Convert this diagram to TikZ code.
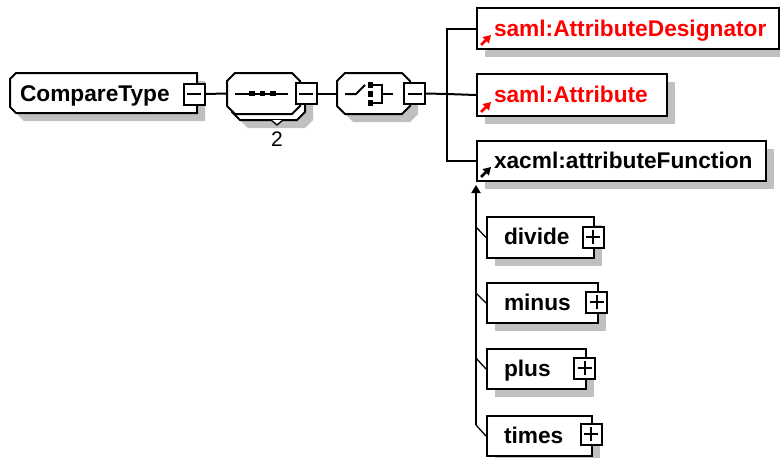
\documentclass[tikz,border=0pt]{standalone}
\usepackage{fontspec}
\setmainfont{Liberation Sans}
\usetikzlibrary{shadows,arrows.meta}
\definecolor{shd}{RGB}{192,192,192}
\definecolor{xred}{RGB}{255,0,0}
\begin{document}
\begin{tikzpicture}[x=1pt,y=-1pt, line width=2pt,
  shbox/.style={draw=black, line width=2pt, fill=white, general shadow={fill=shd, shadow xshift=8pt, shadow yshift=-8pt}},
  plainbox/.style={draw=black, line width=2pt, fill=white},
  rbox/.style={shbox, rectangle, inner sep=0, anchor=north west},
  area/.style={inner sep=0, rectangle},
  pmbox/.style={draw, fill=white, rectangle, minimum size=21, inner sep=0, line width=2pt},
  pmminus/.style={pmbox, path picture={\draw[line width=2pt] ([xshift=-7pt]path picture bounding box.center) -- ([xshift=7pt]path picture bounding box.center);}},
  pmplus/.style={pmbox, path picture={\draw[line width=2pt] ([xshift=-7pt]path picture bounding box.center) -- ([xshift=7pt]path picture bounding box.center) ([yshift=-7pt]path picture bounding box.center) -- ([yshift=7pt]path picture bounding box.center);}},
  lbl/.style={font=\bfseries\fontsize{22.7}{26}\selectfont, inner sep=0, anchor=base west},
  conn/.style={draw, line width=2pt},
  stub/.style={draw, line width=1.3pt},
  refarrow/.style={-{Triangle[length=7.5pt,width=8.5pt]}, line width=2.6pt},
  icon/.style={line width=2pt}
]
\useasboundingbox (0,0) rectangle (780,458);

% CompareType
\draw[shbox] (16,73) -- (197,73) -- (197,113) -- (16,113) -- (10,107) -- (10,79) -- cycle;
\node[area, minimum width=187, minimum height=40] (ct) at (103.5,93) {};
\node[lbl] (ctT) at (19,101) {CompareType};
\node[pmminus] (ctm) at (194,94) {};

% sequence compositor (with multiplicity shape behind)
\draw[shbox] (240,79) -- (297,79) -- (305,87) -- (305,112) -- (297,120) -- (240,120) -- (232,112) -- (232,87) -- cycle;
\draw[line width=1.3pt, fill=white] (271,120) -- (277,125) -- (283,120);
\draw[plainbox] (235,73) -- (292,73) -- (300,81) -- (300,106) -- (292,114) -- (235,114) -- (227,106) -- (227,81) -- cycle;
\node[area, minimum width=73, minimum height=41] (seq) at (263.5,93.5) {};
\node[pmminus] (seqm) at (306,93.5) {};
\node[font=\fontsize{21}{24}\selectfont, inner sep=0] (mult) at (277,139) {2};
\draw[icon] (235,93.5) -- (288,93.5);
\foreach \dx in {252,262.5,273} \fill (\dx-2.8,90.7) rectangle (\dx+2.8,96.3);

% choice compositor
\draw[shbox] (345,73) -- (402,73) -- (410,81) -- (410,106) -- (402,114) -- (345,114) -- (337,106) -- (337,81) -- cycle;
\node[area, minimum width=73, minimum height=41] (cho) at (373.5,93.5) {};
\node[pmminus] (chom) at (414.5,93.5) {};
\draw[icon] (345,94) -- (356,94) -- (365,85);
\foreach \dy in {85,94,103} \fill (367.5,\dy-2.8) rectangle (373,\dy+2.8);
\draw[icon] (372,85) -- (381.5,85) -- (381.5,103) -- (372,103) (381.5,94) -- (393,94);

% connectors between compositors
\draw[conn] (ctm.east) -- (seq.west);
\draw[conn] (seqm.east) -- (cho.west);

% children of choice
\node[rbox, minimum width=302, minimum height=41] (ad) at (476,7) {};
\node[lbl, text=xred] (adT) at (493,36) {saml:AttributeDesignator};
\draw[refarrow, xred] (481,45) -- (491,35);

\node[rbox, minimum width=190, minimum height=42] (at) at (476,73) {};
\node[lbl, text=xred] (atT) at (493,102) {saml:Attribute};
\draw[refarrow, xred] (481,112) -- (491,102);

\node[rbox, minimum width=289, minimum height=40] (af) at (476,140) {};
\node[lbl] (afT) at (493,168) {xacml:attributeFunction};
\draw[refarrow] (481,177) -- (491,167);

\coordinate (bus) at (447,94);
\draw[conn] (chom.east) -- (bus);
\draw[conn] (ad.west) -| (bus) |- (af.west);
\draw[conn] (bus) -- (at.west);

% substitution group members
\node[rbox, minimum width=107, minimum height=41] (dv) at (486,216) {};
\node[lbl] (dvT) at (503,244.5) {divide};
\node[pmplus] (dvp) at (593,237) {};

\node[rbox, minimum width=111, minimum height=40] (mn) at (486,282) {};
\node[lbl] (mnT) at (503,310) {minus};
\node[pmplus] (mnp) at (596.5,302) {};

\node[rbox, minimum width=99, minimum height=40] (pl) at (486,348) {};
\node[lbl] (plT) at (503,376) {plus};
\node[pmplus] (plp) at (584.5,368) {};

\node[rbox, minimum width=105, minimum height=40] (tm) at (486,415) {};
\node[lbl] (tmT) at (503,443) {times};
\node[pmplus] (tmp) at (591,434) {};

\coordinate (vtop) at (476,185);
\coordinate (vbot) at (476,425);
\draw[conn, -{Triangle[length=8pt,width=9pt]}] (vbot) -- (vtop);
\draw[stub] (476,227) -- (dv.west);
\draw[stub] (476,293) -- (mn.west);
\draw[stub] (476,358) -- (pl.west);
\draw[stub] (vbot) -- (tm.west);
\end{tikzpicture}
\end{document}
